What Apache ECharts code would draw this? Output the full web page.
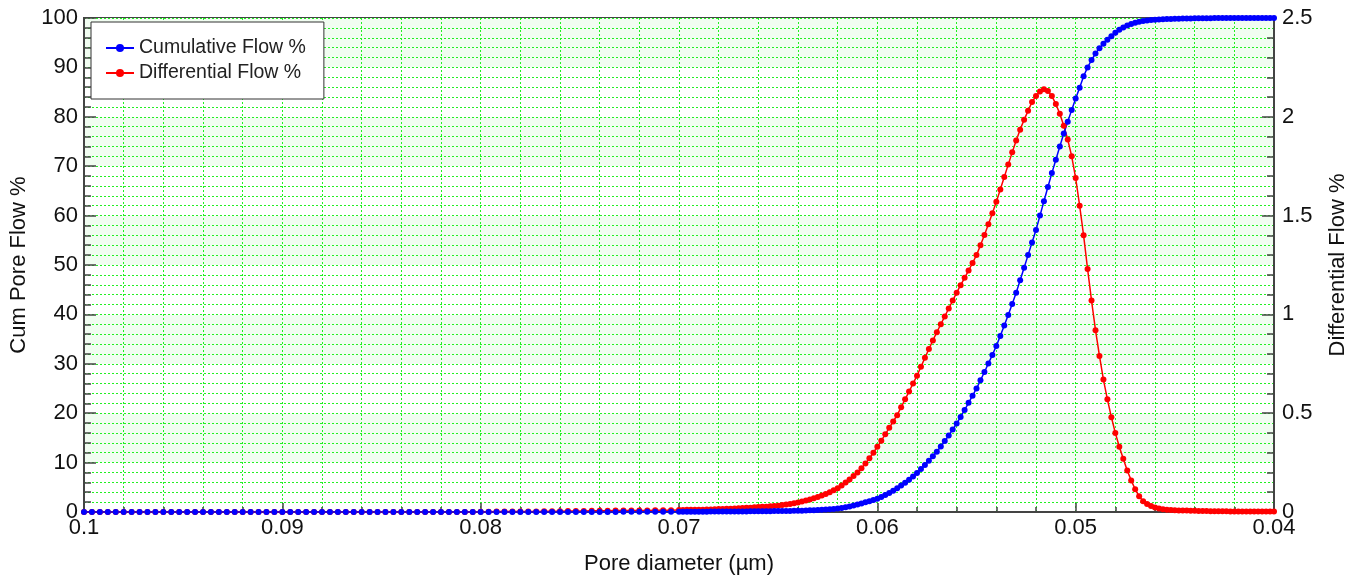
<!DOCTYPE html>
<html>
<head>
<meta charset="utf-8">
<title>Pore flow</title>
<script src="https://cdn.jsdelivr.net/npm/echarts@6/dist/echarts.min.js"></script>
<style>
  html, body { margin: 0; padding: 0; background: #fff; }
  #chart { width: 1360px; height: 580px; }
</style>
</head>
<body>
<div id="chart"></div>
<script>
// pore diameter (µm), large -> small
const diameters = [
  0.1000, 0.0996, 0.0992, 0.0988, 0.0984, 0.0980, 0.0976, 0.0972, 0.0968, 0.0964,
  0.0960, 0.0956, 0.0952, 0.0948, 0.0944, 0.0940, 0.0936, 0.0932, 0.0928, 0.0924,
  0.0920, 0.0916, 0.0912, 0.0908, 0.0904, 0.0900, 0.0896, 0.0892, 0.0888, 0.0884,
  0.0880, 0.0876, 0.0872, 0.0868, 0.0864, 0.0860, 0.0856, 0.0852, 0.0848, 0.0844,
  0.0840, 0.0836, 0.0832, 0.0828, 0.0824, 0.0820, 0.0816, 0.0812, 0.0808, 0.0804,
  0.0800, 0.0796, 0.0792, 0.0788, 0.0784, 0.0780, 0.0776, 0.0772, 0.0768, 0.0764,
  0.0760, 0.0756, 0.0752, 0.0748, 0.0744, 0.0740, 0.0736, 0.0732, 0.0728, 0.0724,
  0.0720, 0.0716, 0.0712, 0.0708, 0.0704,
  0.0700, 0.0698, 0.0696, 0.0694, 0.0692, 0.0690, 0.0688, 0.0686, 0.0684, 0.0682,
  0.0680, 0.0678, 0.0676, 0.0674, 0.0672, 0.0670, 0.0668, 0.0666, 0.0664, 0.0662,
  0.0660, 0.0658, 0.0656, 0.0654, 0.0652, 0.0650, 0.0648, 0.0646, 0.0644, 0.0642,
  0.0640, 0.0638, 0.0636, 0.0634, 0.0632, 0.0630, 0.0628, 0.0626, 0.0624, 0.0622,
  0.0620, 0.0618, 0.0616, 0.0614, 0.0612, 0.0610, 0.0608, 0.0606, 0.0604, 0.0602,
  0.0600, 0.0598, 0.0596, 0.0594, 0.0592, 0.0590, 0.0588, 0.0586, 0.0584, 0.0582,
  0.0580, 0.0578, 0.0576, 0.0574, 0.0572, 0.0570, 0.0568, 0.0566, 0.0564, 0.0562,
  0.0560, 0.0558, 0.0556, 0.0554, 0.0552, 0.0550, 0.0548, 0.0546, 0.0544, 0.0542,
  0.0540, 0.0538, 0.0536, 0.0534, 0.0532, 0.0530, 0.0528, 0.0526, 0.0524, 0.0522,
  0.0520, 0.0518, 0.0516, 0.0514, 0.0512, 0.0510, 0.0508, 0.0506, 0.0504, 0.0502,
  0.0500, 0.0498, 0.0496, 0.0494, 0.0492, 0.0490, 0.0488, 0.0486, 0.0484, 0.0482,
  0.0480, 0.0478, 0.0476, 0.0474, 0.0472, 0.0470, 0.0468, 0.0466, 0.0464, 0.0462,
  0.0460, 0.0458, 0.0456, 0.0454, 0.0452, 0.0450, 0.0448, 0.0446, 0.0444, 0.0442,
  0.0440, 0.0438, 0.0436, 0.0434, 0.0432, 0.0430, 0.0428, 0.0426, 0.0424, 0.0422,
  0.0420, 0.0418, 0.0416, 0.0414, 0.0412, 0.0410, 0.0408, 0.0406, 0.0404, 0.0402,
  0.0400
]

// Cum Pore Flow % (left axis)
const cumFlow = [
  0, 0, 0, 0, 0, 0, 0, 0, 0, 0,
  0, 0, 0, 0, 0, 0, 0, 0, 0, 0,
  0, 0, 0, 0, 0, 0, 0, 0, 0, 0,
  0, 0, 0, 0, 0, 0, 0, 0, 0, 0,
  0, 0, 0, 0, 0, 0, 0, 0, 0, 0,
  0.01, 0.01, 0.01, 0.01, 0.01, 0.01, 0.01, 0.01, 0.01, 0.01,
  0.02, 0.02, 0.02, 0.02, 0.02, 0.02, 0.02, 0.02, 0.03, 0.03,
  0.03, 0.03, 0.04, 0.04, 0.04,
  0.05, 0.05, 0.05, 0.06, 0.06, 0.06, 0.07, 0.07, 0.08, 0.08,
  0.09, 0.09, 0.10, 0.10, 0.11, 0.11, 0.12, 0.12, 0.13, 0.13,
  0.14, 0.15, 0.16, 0.17, 0.18, 0.19, 0.20, 0.21, 0.22, 0.23,
  0.25, 0.27, 0.30, 0.33, 0.36, 0.40, 0.45, 0.50, 0.56, 0.63,
  0.70, 0.82, 0.96, 1.12, 1.30, 1.50, 1.72, 1.96, 2.20, 2.45,
  2.70, 3.06, 3.45, 3.86, 4.30, 4.80, 5.35, 5.92, 6.52, 7.18,
  7.90, 8.68, 9.50, 10.37, 11.27, 12.20, 13.25, 14.35, 15.50, 16.70,
  17.90, 19.25, 20.65, 22.10, 23.55, 25.00, 26.65, 28.35, 30.05, 31.80,
  33.60, 35.65, 37.75, 39.90, 42.10, 44.40, 46.90, 49.45, 52.00, 54.55,
  57.10, 60.00, 62.90, 65.80, 68.60, 71.30, 74.00, 76.60, 79.00, 81.40,
  83.70, 85.90, 88.20, 90.00, 91.50, 92.80, 93.90, 94.80, 95.60, 96.30,
  97.00, 97.60, 98.10, 98.50, 98.80, 99.05, 99.25, 99.40, 99.50, 99.60,
  99.65, 99.70, 99.75, 99.80, 99.82, 99.85, 99.87, 99.89, 99.90, 99.92,
  99.93, 99.94, 99.95, 99.96, 99.97, 99.98, 99.98, 99.99, 99.99, 100,
  100, 100, 100, 100, 100, 100, 100, 100, 100, 100,
  100
]

// Differential Flow % (right axis)
const diffFlow = [
  0, 0, 0, 0, 0, 0, 0, 0, 0, 0,
  0, 0, 0, 0, 0, 0, 0, 0, 0, 0,
  0, 0, 0, 0, 0, 0, 0, 0, 0, 0,
  0, 0, 0, 0, 0, 0, 0, 0, 0, 0,
  0, 0, 0, 0, 0, 0, 0, 0, 0, 0,
  0.001, 0.001, 0.002, 0.002, 0.002, 0.003, 0.003, 0.003, 0.004, 0.004,
  0.004, 0.005, 0.005, 0.005, 0.006, 0.006, 0.006, 0.007, 0.007, 0.007,
  0.008, 0.008, 0.009, 0.009, 0.009,
  0.010, 0.010, 0.011, 0.011, 0.011, 0.012, 0.012, 0.013, 0.013, 0.014,
  0.015, 0.015, 0.016, 0.017, 0.018, 0.019, 0.020, 0.021, 0.022, 0.024,
  0.025, 0.026, 0.027, 0.029, 0.030, 0.032, 0.035, 0.038, 0.041, 0.044,
  0.048, 0.053, 0.058, 0.063, 0.069, 0.076, 0.083, 0.091, 0.100, 0.110,
  0.120, 0.134, 0.149, 0.165, 0.182, 0.200, 0.222, 0.246, 0.272, 0.300,
  0.330, 0.361, 0.393, 0.426, 0.458, 0.490, 0.530, 0.570, 0.610, 0.650,
  0.690, 0.735, 0.780, 0.825, 0.868, 0.910, 0.950, 0.990, 1.030, 1.070,
  1.110, 1.148, 1.185, 1.222, 1.260, 1.300, 1.350, 1.402, 1.456, 1.512,
  1.570, 1.632, 1.695, 1.758, 1.820, 1.880, 1.935, 1.985, 2.030, 2.075,
  2.105, 2.128, 2.140, 2.130, 2.105, 2.065, 2.015, 1.955, 1.885, 1.800,
  1.690, 1.550, 1.400, 1.230, 1.070, 0.920, 0.790, 0.670, 0.570, 0.480,
  0.400, 0.330, 0.270, 0.210, 0.160, 0.115, 0.080, 0.055, 0.040, 0.030,
  0.023, 0.018, 0.014, 0.012, 0.010, 0.009, 0.008, 0.007, 0.007, 0.006,
  0.006, 0.005, 0.005, 0.005, 0.004, 0.004, 0.004, 0.004, 0.004, 0.003,
  0.003, 0.003, 0.003, 0.003, 0.003, 0.003, 0.002, 0.002, 0.002, 0.002,
  0.002
]

const seriesNames = ['Cumulative Flow %', 'Differential Flow %']

const font = '"Liberation Sans", Arial, sans-serif'
const axisColor = '#444'
const labelColor = '#111'
const green = '#22f022'
// fresh object each time, echarts merges styles into them
function greenLine() {
  return {color: green, type: [2, 2], width: 1, opacity: 1}
}

const chart = echarts.init(document.getElementById('chart'))

chart.setOption({
  animation: false,
  backgroundColor: '#fff',
  textStyle: {fontFamily: font},
  grid: {
    left: 84,
    right: 86,
    top: 18,
    bottom: 66,
    show: true,
    borderColor: axisColor,
    borderWidth: 2,
    backgroundColor: 'transparent',
  },
  legend: {
    data: seriesNames,
    orient: 'vertical',
    left: 91,
    top: 22,
    padding: [16, 18, 16, 14],
    itemGap: 5,
    itemWidth: 28,
    itemHeight: 10,
    backgroundColor: '#fff',
    borderColor: '#333',
    borderWidth: 1,
    textStyle: {fontSize: 19.5, color: '#222', fontFamily: font},
  },
  xAxis: {
    type: 'value',
    inverse: true,
    min: 0.04,
    max: 0.1,
    interval: 0.01,
    name: 'Pore diameter (µm)',
    nameLocation: 'middle',
    nameGap: 41,
    nameTextStyle: {fontSize: 22, color: labelColor},
    axisLine: {onZero: false, lineStyle: {color: axisColor, width: 2}},
    axisTick: {inside: true, length: 9, lineStyle: {color: axisColor, width: 1.5}},
    minorTick: {show: true, splitNumber: 5, length: 5, lineStyle: {color: axisColor, width: 1.5}},
    axisLabel: {
      fontSize: 22,
      color: labelColor,
      margin: 5,
      showMinLabel: true,
      showMaxLabel: true,
      formatter: v => String(parseFloat(v.toFixed(3))),
    },
    splitLine: {show: true, lineStyle: greenLine()},
    minorSplitLine: {show: true, lineStyle: greenLine()},
  },
  yAxis: [
    {
      type: 'value',
      min: 0,
      max: 100,
      interval: 10,
      name: 'Cum Pore Flow %',
      nameLocation: 'middle',
      nameGap: 51,
      nameTextStyle: {fontSize: 22, color: labelColor},
      axisLine: {show: true, lineStyle: {color: axisColor, width: 2}},
      axisTick: {inside: true, length: 12, lineStyle: {color: axisColor, width: 1.5}},
      minorTick: {show: true, splitNumber: 5, length: 7, lineStyle: {color: axisColor, width: 1.5}},
      axisLabel: {fontSize: 22, color: labelColor, margin: 6},
      splitLine: {show: true, lineStyle: greenLine()},
      minorSplitLine: {show: true, lineStyle: greenLine()},
      splitArea: {show: true, areaStyle: {color: ['#ffffff', '#f1fdf1']}},
    },
    {
      type: 'value',
      position: 'right',
      min: 0,
      max: 2.5,
      interval: 0.5,
      name: 'Differential Flow %',
      nameLocation: 'middle',
      nameGap: 53,
      nameTextStyle: {fontSize: 22, color: labelColor},
      axisLine: {show: true, lineStyle: {color: axisColor, width: 2}},
      axisTick: {inside: true, length: 12, lineStyle: {color: axisColor, width: 1.5}},
      minorTick: {show: true, splitNumber: 5, length: 7, lineStyle: {color: axisColor, width: 1.5}},
      axisLabel: {fontSize: 22, color: labelColor, margin: 8},
      splitLine: {show: false},
      minorSplitLine: {show: false},
    },
  ],
  series: [
    {
      name: seriesNames[1],
      type: 'line',
      yAxisIndex: 1,
      data: diameters.map((d, i) => [d, diffFlow[i]]),
      symbol: 'circle',
      symbolSize: 6,
      showAllSymbol: true,
      color: '#ff0000',
      lineStyle: {width: 1.5, color: '#ff0000'},
    },
    {
      name: seriesNames[0],
      type: 'line',
      yAxisIndex: 0,
      data: diameters.map((d, i) => [d, cumFlow[i]]),
      symbol: 'circle',
      symbolSize: 6,
      showAllSymbol: true,
      color: '#0000ff',
      lineStyle: {width: 1.5, color: '#0000ff'},
    },
  ],
})
</script>
</body>
</html>
